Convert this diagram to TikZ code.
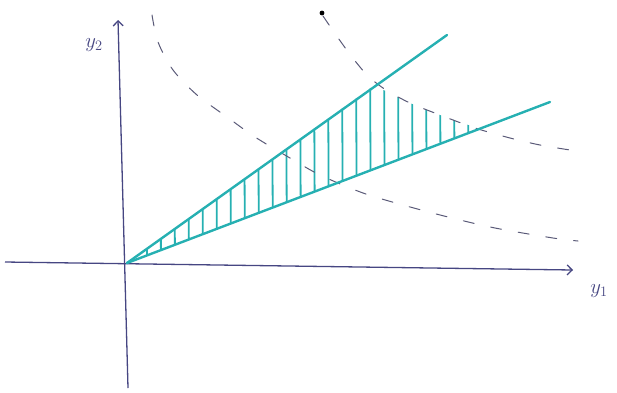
\documentclass[tikz,border=0pt]{standalone}
\usetikzlibrary{arrows.meta}
\definecolor{axiscol}{RGB}{70,70,130}
\definecolor{tealpen}{RGB}{38,176,178}
\definecolor{dashcol}{RGB}{90,90,120}
\tikzset{
  axis/.style={draw=axiscol, line width=1.3pt, -{Straight Barb[length=5pt,width=10pt]}},
  ray/.style={draw=tealpen, line width=2.4pt, line cap=round},
  curve/.style={draw=dashcol, line width=1pt, dash pattern=on 11pt off 17pt, line cap=round},
  hatch/.style={draw=tealpen, line width=1.8pt, line cap=round},
  lab/.style={text=axiscol, font=\huge, inner sep=0pt}
}
\begin{document}
\begin{tikzpicture}[x=1pt,y=-1pt]
\useasboundingbox (0,0) rectangle (617,392);
% points
\coordinate (O) at (127,263);
\coordinate (ybot) at (128,388);
\coordinate (ytop) at (118,20);
\coordinate (xleft) at (5,262);
\coordinate (xright) at (573,270);
\coordinate (U) at (447,35);
\coordinate (L) at (550,102);
% hatching
\begin{scope}
  \clip (O) -- plot[smooth] coordinates {(372,87) (386,91) (410,103) (440,115) (480,129)} -- cycle;
  \foreach \x in {146,160,...,490} {
    \draw[hatch] (\x+1,270) -- (\x,60);
  }
\end{scope}
% axes
\draw[axis] (ybot) -- (ytop);
\draw[axis] (xleft) -- (xright);
\node[lab] (l2) at (94,45) {$y_2$};
\node[lab] (l1) at (599,291) {$y_1$};
% dashed curves
\draw[curve] plot[smooth] coordinates {(152,15) (158,42) (173,70) (197,95) (227,117) (255,137) (290,158) (320,175) (363,193) (403,205) (448,217) (495,228) (553,238) (578,241)};
\draw[curve] plot[smooth] coordinates {(323,16) (336,35) (352,57) (368,76) (386,90) (410,103) (440,115) (475,128) (510,138) (540,145) (570,150)};
\fill[black] (322,13) circle (2.4pt);
% rays
\draw[ray] (O) -- (U);
\draw[ray] (O) -- (L);
\end{tikzpicture}
\end{document}
